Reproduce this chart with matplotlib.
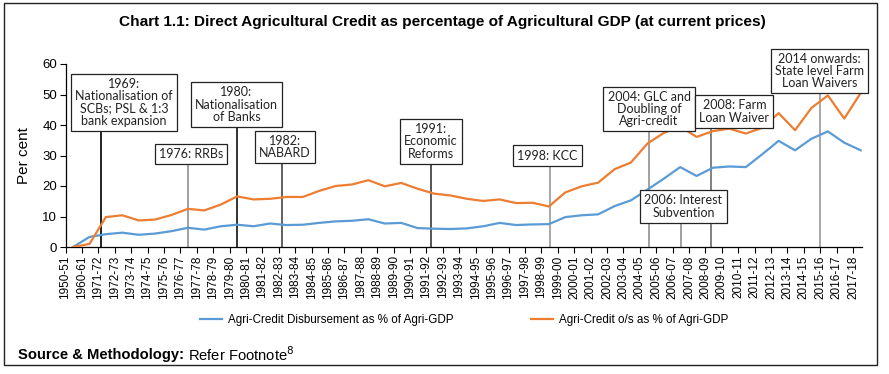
import matplotlib
matplotlib.use("Agg")
from matplotlib import pyplot as plt
from matplotlib.patches import Rectangle

# category labels (financial years)
years = ["1950-51", "1960-61", "1971-72", "1972-73", "1973-74", "1974-75", "1975-76",
         "1976-77", "1977-78", "1978-79", "1979-80", "1980-81", "1981-82", "1982-83",
         "1983-84", "1984-85", "1985-86", "1986-87", "1987-88", "1988-89", "1989-90",
         "1990-91", "1991-92", "1992-93", "1993-94", "1994-95", "1995-96", "1996-97",
         "1997-98", "1998-99", "1999-00", "2000-01", "2001-02", "2002-03", "2003-04",
         "2004-05", "2005-06", "2006-07", "2007-08", "2008-09", "2009-10", "2010-11",
         "2011-12", "2012-13", "2013-14", "2014-15", "2015-16", "2016-17", "2017-18"]

# Agri-credit disbursement as % of agri-GDP
disbursement = [0.0, 3.3, 4.2, 4.7, 4.0, 4.4, 5.2, 6.3, 5.7, 6.8, 7.3, 6.8, 7.7, 7.2,
                7.3, 7.9, 8.4, 8.6, 9.1, 7.7, 7.9, 6.2, 6.0, 5.9, 6.1, 6.8, 7.9, 7.2,
                7.4, 7.5, 9.8, 10.4, 10.7, 13.4, 15.3, 18.8, 22.4, 26.2, 23.3, 26.0,
                26.4, 26.2, 30.4, 34.8, 31.7, 35.5, 37.9, 34.2, 31.7]

# Agri-credit outstanding as % of agri-GDP
outstanding = [0.0, 1.0, 9.8, 10.4, 8.7, 9.0, 10.5, 12.5, 12.0, 13.9, 16.6, 15.6, 15.8, 16.4,
               16.4, 18.4, 20.0, 20.5, 21.9, 19.9, 21.0, 19.1, 17.5, 16.9, 15.8, 15.1, 15.6, 14.4,
               14.5, 13.3, 17.9, 19.9, 21.1, 25.5, 27.7, 33.9, 37.4, 39.5, 36.1, 38.0,
               38.8, 37.2, 39.1, 43.9, 38.3, 45.6, 49.7, 42.1, 50.5]

# policy event call-outs
events = ["1969:\nNationalisation of\nSCBs; PSL & 1:3\nbank expansion",
          "1976: RRBs",
          "1980:\nNationalisation\nof Banks",
          "1982:\nNABARD",
          "1991:\nEconomic\nReforms",
          "1998: KCC",
          "2004: GLC and\nDoubling of\nAgri-credit",
          "2006: Interest\nSubvention",
          "2008: Farm\nLoan Waiver",
          "2014 onwards:\nState level Farm\nLoan Waivers"]

# layout of call-outs: (box x, box y, marker line x, line top, line colour)
event_layout = [(3.1, 47.4, 1.7, 37.4, "#222222"),
                (7.2, 30.5, 7.0, 27.2, "#a0a0a0"),
                (9.95, 46.7, 10.0, 39.3, "#333333"),
                (12.9, 32.8, 12.75, 27.2, "#606060"),
                (21.8, 34.6, 21.8, 26.9, "#555555"),
                (28.9, 30.0, 29.05, 26.9, "#a8a8a8"),
                (35.1, 45.2, 35.1, 37.7, "#a0a0a0"),
                (37.2, 13.3, 37.05, 7.9, "#a0a0a0"),
                (40.3, 44.4, 38.9, 38.7, "#808080"),
                (45.5, 57.7, 45.5, 49.8, "#a8a8a8")]

blue = "#5b9bd5"
orange = "#ed7d31"
sans = "Liberation Sans"

fig = plt.figure(figsize=(8.89, 3.74), dpi=100)
ax = fig.add_axes([65.5 / 889, 1 - 247 / 374, 796 / 889, 183 / 374])

x = list(range(len(years)))
ax.plot(x, disbursement, color=blue, lw=1.6, zorder=3,
        label="Agri-Credit Disbursement as % of Agri-GDP")
ax.plot(x, outstanding, color=orange, lw=1.6, zorder=3,
        label="Agri-Credit o/s as % of Agri-GDP")

for txt, (bx, by, lx, ltop, lc) in zip(events, event_layout):
    ax.plot([lx, lx], [0, ltop], color=lc, lw=1.4, zorder=2, clip_on=False)
    ax.text(bx, by, txt, ha="center", va="center", fontsize=9.0, family="Lato",
            color="#222222", linespacing=1.02, zorder=5, clip_on=False,
            bbox=dict(boxstyle="square,pad=0.33", fc="white", ec="#222222", lw=0.9))

ax.set_xlim(-0.46, 48.05)
ax.set_ylim(0, 60)
ax.set_yticks(range(0, 61, 10))
ax.set_xticks([i - 0.46 for i in x])
ax.set_xticklabels(years, rotation=90, fontsize=8.5, family=sans)
ax.tick_params(axis="y", labelsize=9.5, length=4, width=0.8, pad=2)
ax.tick_params(axis="x", length=4, width=0.8, pad=2)
for lab in ax.get_yticklabels():
    lab.set_family(sans)
for s in ["top", "right"]:
    ax.spines[s].set_visible(False)
for s in ["left", "bottom"]:
    ax.spines[s].set_linewidth(0.9)
ax.set_ylabel("Per cent", fontsize=11, family=sans, labelpad=8)

leg = fig.legend(loc="center", bbox_to_anchor=(0.522, 1 - 320 / 374), ncol=2,
                 frameon=False, handlelength=1.9, handletextpad=0.5, columnspacing=6.6,
                 prop={"family": sans, "size": 8.4})

fig.text(0.498, 1 - 22 / 374,
         "Chart 1.1: Direct Agricultural Credit as percentage of Agricultural GDP (at current prices)",
         ha="center", va="center", fontsize=11.1, fontweight="bold", family=sans)

src = fig.text(18 / 889, 1 - 355 / 374, "Source & Methodology:", ha="left", va="center",
               fontsize=10.6, fontweight="bold", family=sans)
fig.canvas.draw()
bb = src.get_window_extent(fig.canvas.get_renderer())
fig.text((bb.x1 + 4) / 889, 1 - 355 / 374, r"Refer Footnote$^{8}$", ha="left", va="center",
         fontsize=10.6, family=sans)

fig.patches.append(Rectangle((4 / 889, 1 - 365 / 374), 873 / 889, 362 / 374,
                             transform=fig.transFigure, fill=False, ec="#222222", lw=1.0))

fig.savefig("out.png", dpi=100)
